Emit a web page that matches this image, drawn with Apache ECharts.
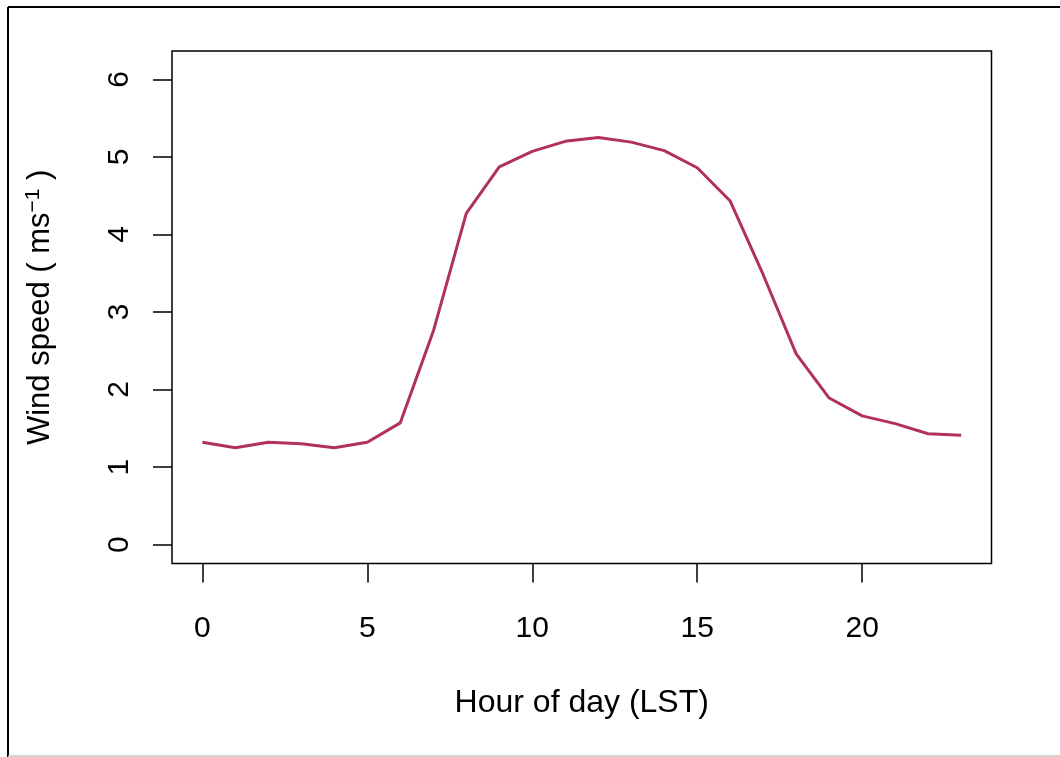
<!DOCTYPE html>
<html>
<head>
<meta charset="utf-8">
<script src="https://cdn.jsdelivr.net/npm/echarts@6/dist/echarts.min.js"></script>
<style>
  html, body { margin: 0; padding: 0; background: #fff; }
  #chart { width: 1060px; height: 757px; }
</style>
</head>
<body>
<div id="chart"></div>
<script>
// hourly mean wind speed
var hours = [0, 1, 2, 3, 4, 5, 6, 7, 8, 9, 10, 11, 12, 13, 14, 15, 16, 17, 18, 19, 20, 21, 22, 23];
var windSpeed = [1.32, 1.25, 1.32, 1.30, 1.25, 1.32, 1.57, 2.75, 4.27, 4.87, 5.07, 5.20, 5.25, 5.19, 5.08, 4.86,
                 4.43, 3.48, 2.46, 1.89, 1.66, 1.56, 1.43, 1.41];
var xTicks = [0, 5, 10, 15, 20];
var yTicks = [0, 1, 2, 3, 4, 5, 6];

var myChart = echarts.init(document.getElementById('chart'));
var font = 'Liberation Sans, Arial, Helvetica, sans-serif';

var points = [];
for (var i = 0; i < hours.length; i++) {
    points.push([hours[i], windSpeed[i]]);
}

option = {
    backgroundColor: '#fff',
    animation: false,
    grid: {
        left: 172,
        top: 51,
        right: 68.5,
        bottom: 193.4,
        show: true,
        borderColor: '#000',
        borderWidth: 1.5,
        backgroundColor: 'transparent'
    },
    xAxis: {
        type: 'value',
        min: -0.92,
        max: 23.92,
        name: 'Hour of day (LST)',
        nameLocation: 'middle',
        nameGap: 124,
        nameTextStyle: { color: '#000', fontSize: 32, fontFamily: font },
        axisLine: { show: false, onZero: false },
        splitLine: { show: false },
        axisTick: {
            show: true,
            inside: false,
            length: 19,
            customValues: xTicks,
            lineStyle: { color: '#000', width: 1.5 }
        },
        axisLabel: {
            customValues: xTicks,
            margin: 50,
            color: '#000',
            fontSize: 30,
            fontFamily: font
        }
    },
    yAxis: {
        type: 'value',
        min: -0.245,
        max: 6.365,
        name: '{t|Wind speed ( ms}{sup|\u22121}{t| )}',
        nameLocation: 'middle',
        nameGap: 114,
        nameRotate: 90,
        nameTextStyle: {
            color: '#000',
            fontSize: 31,
            fontFamily: font,
            rich: {
                t: { fontSize: 31, fontFamily: font, color: '#000' },
                sup: { fontSize: 21, fontFamily: font, color: '#000', verticalAlign: 'top', padding: [0, 0, 14, 0] }
            }
        },
        axisLine: { show: false, onZero: false },
        splitLine: { show: false },
        axisTick: {
            show: true,
            inside: false,
            length: 19,
            customValues: yTicks,
            lineStyle: { color: '#000', width: 1.5 }
        },
        axisLabel: {
            customValues: yTicks,
            rotate: 90,
            margin: 37,
            color: '#000',
            fontSize: 30,
            fontFamily: font
        }
    },
    graphic: [
        { type: 'line', shape: { x1: 8, y1: 7, x2: 1060, y2: 7 }, style: { stroke: '#000', lineWidth: 2 } },
        { type: 'line', shape: { x1: 8, y1: 7, x2: 8, y2: 757 }, style: { stroke: '#000', lineWidth: 2 } },
        { type: 'line', shape: { x1: 8, y1: 756, x2: 1060, y2: 756 }, style: { stroke: '#c4c4c4', lineWidth: 1.5 } }
    ],
    series: [
        {
            type: 'line',
            data: points,
            showSymbol: false,
            symbol: 'none',
            lineStyle: { color: '#B03060', width: 3 },
            z: 3
        }
    ]
};

myChart.setOption(option);
window.addEventListener("resize", function () {
    myChart.resize();
});
</script>
</body>
</html>
